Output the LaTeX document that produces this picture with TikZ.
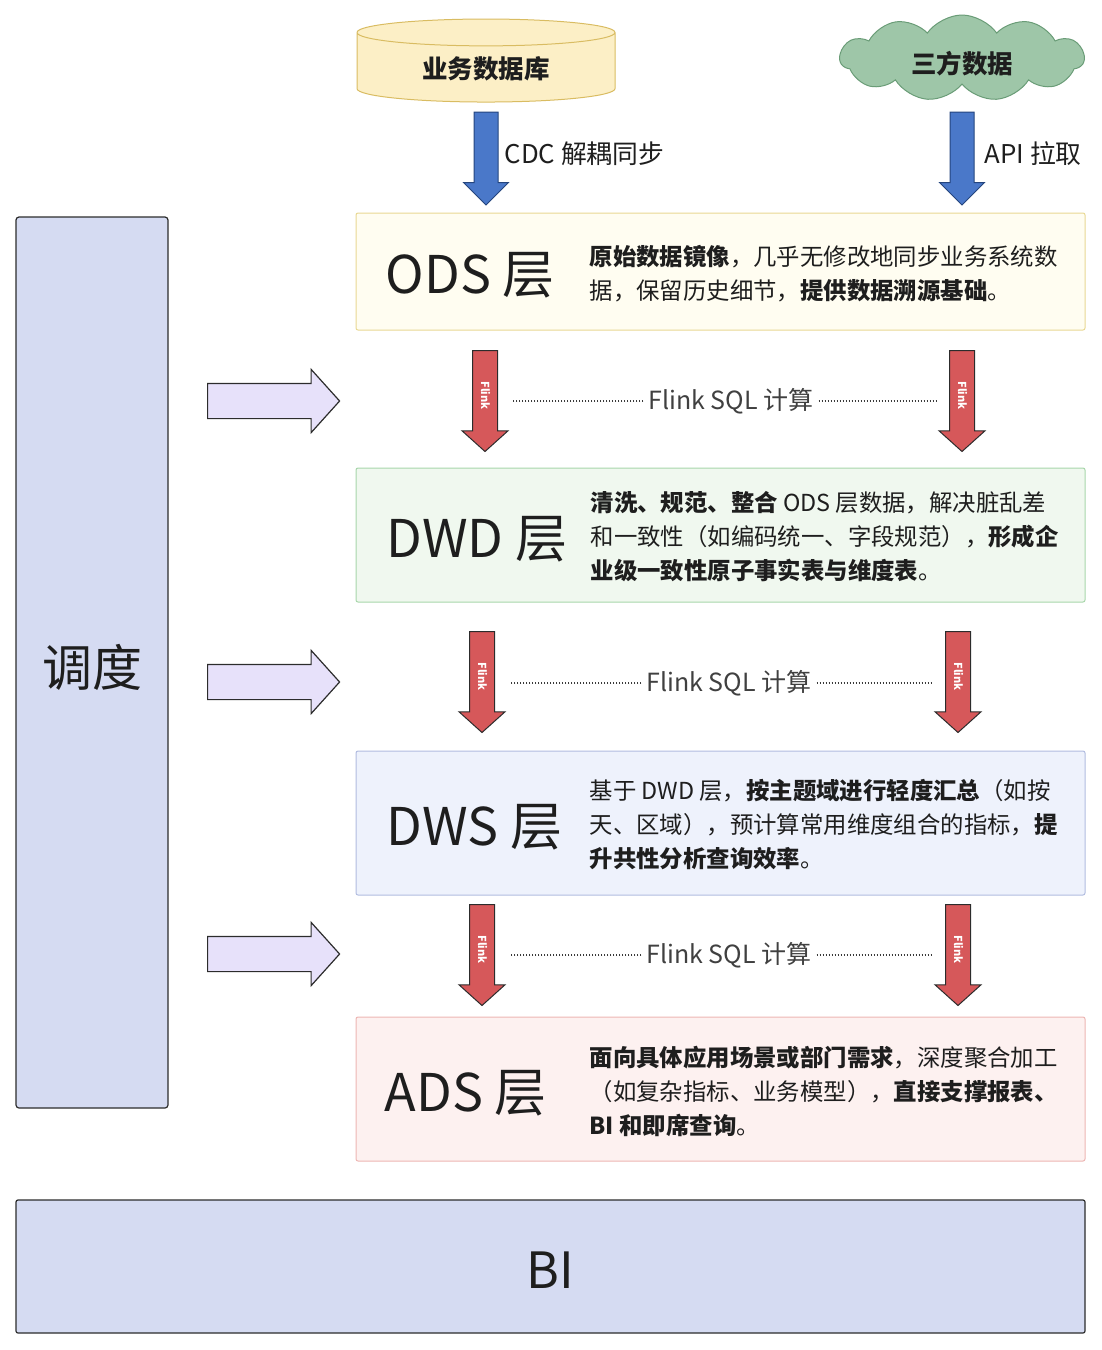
\documentclass[tikz,border=0pt]{standalone}
\usepackage{fontspec}
\setmainfont{Noto Sans CJK SC}
\usetikzlibrary{shapes,arrows,positioning}

\definecolor{ink}{HTML}{1E1E1E}
\definecolor{edge}{HTML}{2C2C2C}
\definecolor{dbfill}{HTML}{FCEFC6}
\definecolor{dbedge}{HTML}{D9BC62}
\definecolor{cloudfill}{HTML}{9EC6A8}
\definecolor{cloudedge}{HTML}{6A9C77}
\definecolor{bluefill}{HTML}{4A78C9}
\definecolor{blueedge}{HTML}{24457E}
\definecolor{redfill}{HTML}{D6585A}
\definecolor{pushfill}{HTML}{E7E1FA}
\definecolor{schedfill}{HTML}{D5DBF2}
\definecolor{odsfill}{HTML}{FFFDF1}
\definecolor{odsedge}{HTML}{E8D893}
\definecolor{dwdfill}{HTML}{F0F8EF}
\definecolor{dwdedge}{HTML}{A7D6AA}
\definecolor{dwsfill}{HTML}{EEF2FC}
\definecolor{dwsedge}{HTML}{B1BCE0}
\definecolor{adsfill}{HTML}{FDF1F0}
\definecolor{adsedge}{HTML}{EDB6B3}
\definecolor{dotgray}{HTML}{3A3A3A}

\begin{document}
\begin{tikzpicture}[x=1pt, y=-1pt, auto, text=ink]
    % Styles
    \tikzstyle{layer} = [rectangle, draw, rounded corners=2pt, minimum width=729pt, line width=1pt]
    \tikzstyle{layer_title} = [anchor=west, inner sep=0pt, font=\fontsize{52}{58}\selectfont]
    \tikzstyle{layer_text} = [anchor=west, inner sep=0pt, align=left, font=\fontsize{23.4}{34}\selectfont]
    \tikzstyle{side_box} = [rectangle, draw=edge, fill=schedfill, rounded corners=3pt, line width=1.2pt, font=\fontsize{50}{55}\selectfont]
    \tikzstyle{src_arrow} = [single arrow, draw=blueedge, fill=bluefill, line width=1pt, rotate=-90, anchor=tail, inner xsep=0pt, inner ysep=11.5pt, minimum width=44pt, minimum height=93pt, single arrow head extend=10.5pt, single arrow tip angle=90]
    \tikzstyle{flink_arrow} = [single arrow, draw=edge, fill=redfill, line width=1pt, rotate=-90, anchor=tail, text height=8pt, text depth=0pt, inner xsep=1pt, inner ysep=8pt, minimum width=45pt, minimum height=101pt, single arrow head extend=10.5pt, single arrow tip angle=96, text=white, font=\fontsize{11}{11}\selectfont\bfseries]
    \tikzstyle{push_arrow} = [single arrow, draw=edge, fill=pushfill, line width=1.2pt, anchor=tail, inner xsep=0pt, inner ysep=17pt, minimum width=62pt, minimum height=132pt, single arrow head extend=14pt, single arrow tip angle=96]
    \tikzstyle{src_label} = [anchor=west, inner sep=0pt, font=\fontsize{25.8}{26}\selectfont]
    \tikzstyle{sql_label} = [inner sep=5pt, font=\fontsize{25}{25}\selectfont, text=ink!85]
    \tikzstyle{dotline} = [draw=dotgray, line width=1.1pt, dash pattern=on 1.2pt off 1.8pt]

    \useasboundingbox (0,0) rectangle (1102,1350);

    % Sources
    \node [cylinder, shape border rotate=90, aspect=0.2, draw=dbedge, fill=dbfill, line width=1pt, minimum width=258pt, minimum height=83pt, font=\fontsize{25.5}{26}\selectfont\bfseries] (db) at (486,69) {业务数据库};
    \node [cloud, cloud puffs=11, cloud puff arc=110, cloud ignores aspect, draw=cloudedge, fill=cloudfill, line width=1pt, minimum width=244pt, minimum height=86pt] (third) at (962,58) {};
    \node [font=\fontsize{25.5}{26}\selectfont\bfseries] (third_label) at ([yshift=-6pt]third.center) {三方数据};

    % Layers
    \node [layer, draw=odsedge, fill=odsfill, minimum height=117pt] (ods) at (720.5,271.5) {};
    \node [layer, draw=dwdedge, fill=dwdfill, minimum height=134pt, below=137pt of ods] (dwd) {};
    \node [layer, draw=dwsedge, fill=dwsfill, minimum height=144pt, below=148pt of dwd] (dws) {};
    \node [layer, draw=adsedge, fill=adsfill, minimum height=144pt, below=121pt of dws] (ads) {};

    \node [layer_title] (ods_title) at ([xshift=30pt, yshift=-4pt]ods.west) {ODS 层};
    \node [layer_title] (dwd_title) at ([xshift=31pt, yshift=-4pt]dwd.west) {DWD 层};
    \node [layer_title] (dws_title) at ([xshift=31pt, yshift=-4pt]dws.west) {DWS 层};
    \node [layer_title] (ads_title) at ([xshift=29pt, yshift=-4pt]ads.west) {ADS 层};

    \node [layer_text] (ods_text) at ([xshift=234pt, yshift=-2pt]ods.west)
        {\textbf{原始数据镜像}，几乎无修改地同步业务系统数\\
         据，保留历史细节，\textbf{提供数据溯源基础}。};
    \node [layer_text] (dwd_text) at ([xshift=235pt, yshift=-2pt]dwd.west)
        {\textbf{清洗、规范、整合} ODS 层数据，解决脏乱差\\
         和一致性（如编码统一、字段规范），\textbf{形成企}\\
         \textbf{业级一致性原子事实表与维度表}。};
    \node [layer_text] (dws_text) at ([xshift=234pt, yshift=-2pt]dws.west)
        {基于 DWD 层，\textbf{按主题域进行轻度汇总}（如按\\
         天、区域），预计算常用维度组合的指标，\textbf{提}\\
         \textbf{升共性分析查询效率}。};
    \node [layer_text] (ads_text) at ([xshift=234pt, yshift=-2pt]ads.west)
        {\textbf{面向具体应用场景或部门需求}，深度聚合加工\\
         （如复杂指标、业务模型），\textbf{直接支撑报表、}\\
         \textbf{BI 和即席查询}。};

    % Scheduler and BI
    \node [side_box, minimum width=152pt, minimum height=891pt] (sched) at (92,662.5) {};
    \node [font=\fontsize{50}{55}\selectfont] (sched_label) at ([yshift=-5pt]sched.center) {调度};
    \node [side_box, rounded corners=2pt, minimum width=1069pt, minimum height=133pt] (bi) at (550.5,1266.5) {};
    \node [font=\fontsize{50}{55}\selectfont] (bi_label) at ([yshift=-4pt]bi.center) {BI};

    % Ingestion
    \node [src_arrow] (cdc) at ([yshift=-9pt]db.south) {};
    \node [src_arrow] (api) at (cdc.tail -| third.center) {};
    \node [src_label] (cdc_label) at ([xshift=6pt, yshift=-1pt]cdc.north) {CDC 解耦同步};
    \node [src_label] (api_label) at ([xshift=10pt, yshift=-1pt]api.north) {API 拉取};

    % Flink computing
    \node [flink_arrow] (fl_l1) at (485,350) {Flink};
    \node [flink_arrow] (fl_r1) at (962,350) {Flink};
    \node [flink_arrow] (fl_l2) at (482,631) {Flink};
    \node [flink_arrow] (fl_r2) at (958,631) {Flink};
    \node [flink_arrow] (fl_l3) at (482,904) {Flink};
    \node [flink_arrow] (fl_r3) at (958,904) {Flink};

    \node [sql_label] (sql1) at (731,401) {Flink SQL 计算};
    \node [sql_label] (sql2) at (729,683) {Flink SQL 计算};
    \node [sql_label] (sql3) at (729,955) {Flink SQL 计算};

    \draw [dotline, shorten >=15pt] (sql1.west) -- (sql1.west -| fl_l1.north);
    \draw [dotline, shorten >=13pt] (sql1.east) -- (sql1.east -| fl_r1.south);
    \draw [dotline, shorten >=15pt] (sql2.west) -- (sql2.west -| fl_l2.north);
    \draw [dotline, shorten >=13pt] (sql2.east) -- (sql2.east -| fl_r2.south);
    \draw [dotline, shorten >=15pt] (sql3.west) -- (sql3.west -| fl_l3.north);
    \draw [dotline, shorten >=13pt] (sql3.east) -- (sql3.east -| fl_r3.south);

    % Scheduling pushes
    \node [push_arrow] (push1) at (207,401) {};
    \node [push_arrow] (push2) at (207,682) {};
    \node [push_arrow] (push3) at (207,954) {};

\end{tikzpicture}
\end{document}
